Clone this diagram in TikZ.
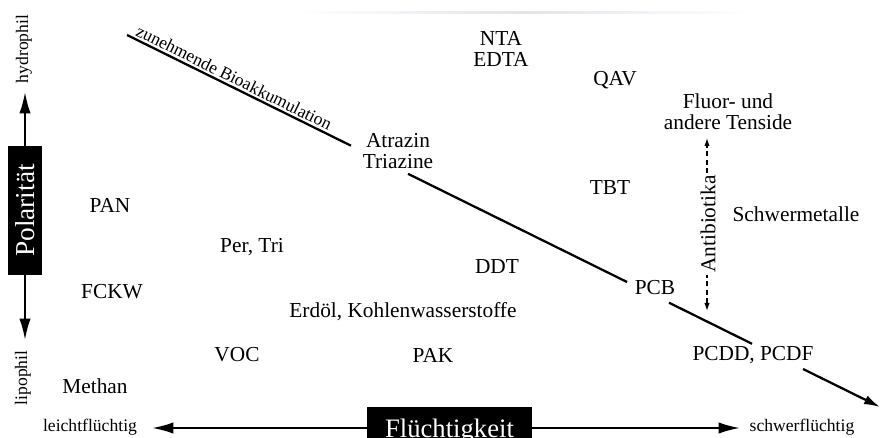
\documentclass[tikz,border=0pt]{standalone}
\usepackage{fontspec}
\usepackage{graphicx}
\setmainfont{Liberation Serif}
\usetikzlibrary{arrows.meta}
\begin{document}
\begin{tikzpicture}[x=0.75pt,y=-0.75pt,
  lbl/.style={font=\fontsize{16}{15.5}\selectfont, align=center, inner sep=1pt},
  small/.style={font=\fontsize{13.2}{15}\selectfont, inner sep=1pt},
  big/.style={font=\fontsize{20}{22}\selectfont, text=white},
  axisline/.style={line width=1.6pt, -{Latex[length=16pt,width=8.5pt]}},
  diagline/.style={line width=1.7pt},
  diagarrow/.style={line width=1.7pt, -{Latex[length=12pt,width=7pt]}},
  dasharrow/.style={line width=0.9pt, dash pattern=on 4pt off 2.5pt,
                    {Latex[length=6pt,width=4pt]}-{Latex[length=6pt,width=4pt]}},
  blackbox/.style={fill=black, inner sep=0pt}
]
\useasboundingbox (0,0) rectangle (886,438);
\clip (0,0) rectangle (886,438);

% faint rule along the top edge
\shade[left color=white, right color=white, middle color={rgb,255:red,226;green,226;blue,242}]
  (300,11.5) rectangle (750,13.5);

% --- polarity axis ---
\node[blackbox, minimum width=25.5pt, minimum height=96.75pt] (pol) at (25,210.5)
  {\rotatebox{90}{\fontsize{20.5}{22}\selectfont\color{white}Polarität}};
\coordinate (hydtip) at (25,92);
\coordinate (liptip) at (25,340);
\draw[axisline] (pol.north) -- (hydtip);
\draw[axisline] (pol.south) -- (liptip);
\node[small, rotate=90] (hyd) at (24,49) {hydrophil};
\node[small, rotate=90] (lip) at (23,378) {lipophil};

% --- volatility axis ---
\node[blackbox, minimum width=123.75pt, minimum height=31.5pt] (flubox) at (449.5,428) {};
\node[big, anchor=base, inner sep=0pt] (flu) at (449.5,437) {Flüchtigkeit};
\coordinate (leichttip) at (152,428);
\coordinate (schwertip) at (740,428);
\draw[axisline] (flubox.west) -- (leichttip);
\draw[axisline] (flubox.east) -- (schwertip);
\node[small] (leicht) at (90,427) {leichtflüchtig};
\node[small] (schwer) at (802,427) {schwerflüchtig};

% --- bioaccumulation diagonal ---
\coordinate (d0) at (127,35);
\coordinate (d1) at (351,145.7);
\coordinate (d2) at (408,173.8);
\coordinate (d3) at (627,282);
\coordinate (d4) at (669,302.7);
\coordinate (d5) at (752,343.8);
\coordinate (d6) at (803,369);
\coordinate (d7) at (880,407);
\draw[diagline] (d0) -- (d1) node[pos=0.46, sloped, above, small, inner sep=1.5pt] (bio) {zunehmende Bioakkumulation};
\draw[diagline] (d2) -- (d3);
\draw[diagline] (d4) -- (d5);
\draw[diagarrow] (d6) -- (d7);

% --- substance labels ---
\node[lbl] (nta) at (501,49) {NTA\\EDTA};
\node[lbl] (qav) at (615,80) {QAV};
\node[lbl] (fluor) at (728,112) {Fluor- und\\andere Tenside};
\node[lbl] (atr) at (398,151) {Atrazin\\Triazine};
\node[lbl] (tbt) at (610,188) {TBT};
\node[lbl] (schwm) at (796,214) {Schwermetalle};
\node[lbl] (pan) at (110,205) {PAN};
\node[lbl] (pertri) at (252,247) {Per, Tri};
\node[lbl] (ddt) at (497,267) {DDT};
\node[lbl] (fckw) at (112,292) {FCKW};
\node[lbl] (erdoel) at (403,312) {Erdöl, Kohlenwasserstoffe};
\node[lbl] (pcb) at (655,288) {PCB};
\node[lbl] (voc) at (237,355) {VOC};
\node[lbl] (pak) at (433,355) {PAK};
\node[lbl] (pcdd) at (753,355) {PCDD, PCDF};
\node[lbl] (methan) at (95,386) {Methan};

% --- antibiotics range ---
\coordinate (abtop) at (707,138);
\coordinate (abbot) at (707,311);
\draw[dasharrow] (abbot) -- (abtop);
\node[lbl, rotate=90, fill=white, inner sep=1.5pt] (anti) at (708,224) {Antibiotika};
\end{tikzpicture}
\end{document}
